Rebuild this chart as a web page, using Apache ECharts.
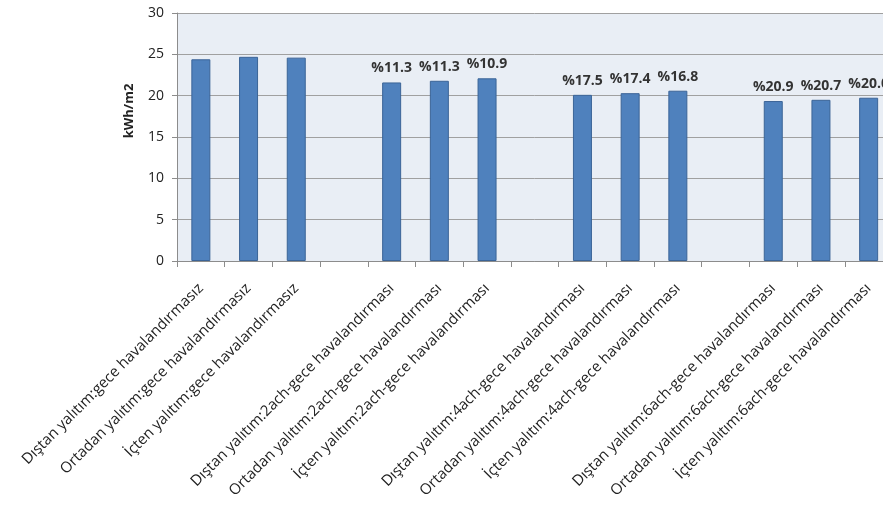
<!DOCTYPE html>
<html>
<head>
<meta charset="utf-8">
<script src="https://cdn.jsdelivr.net/npm/echarts@6/dist/echarts.min.js"></script>
<style>
html,body{margin:0;padding:0;background:#fff;overflow:hidden;width:883px;height:505px;}
#c{width:893px;height:505px;}
</style>
</head>
<body>
<div id="c"></div>
<script>
const categories = [
  'Dıştan yalıtım:gece havalandırmasız',
  'Ortadan yalıtım:gece havalandırmasız',
  'İçten yalıtım:gece havalandırmasız',
  '',
  'Dıştan yalıtım:2ach-gece havalandırması',
  'Ortadan yalıtım:2ach-gece havalandırması',
  'İçten yalıtım:2ach-gece havalandırması',
  '',
  'Dıştan yalıtım:4ach-gece havalandırması',
  'Ortadan yalıtım:4ach-gece havalandırması',
  'İçten yalıtım:4ach-gece havalandırması',
  '',
  'Dıştan yalıtım:6ach-gece havalandırması',
  'Ortadan yalıtım:6ach-gece havalandırması',
  'İçten yalıtım:6ach-gece havalandırması'
];
const values = [24.4, 24.7, 24.6, null, 21.6, 21.8, 22.1, null, 20.1, 20.3, 20.6, null, 19.35, 19.5, 19.75];
const barLabels = ['', '', '', '', '%11.3', '%11.3', '%10.9', '', '%17.5', '%17.4', '%16.8', '', '%20.9', '%20.7', '%20.0'];
const yTicks = {min: 0, max: 30, interval: 5};
const yName = 'kWh/m2';

const chart = echarts.init(document.getElementById('c'));
chart.setOption({
  animation: false,
  grid: {left: 177, top: 13, right: 0.5, bottom: 244, show: true, backgroundColor: '#e9eef5', borderWidth: 0},
  xAxis: {
    type: 'category',
    data: categories,
    axisLine: {lineStyle: {color: '#8c8c8c', width: 1}},
    axisTick: {show: true, length: 6, lineStyle: {color: '#8c8c8c'}},
    axisLabel: {
      interval: 0, rotate: 45, margin: 25,
      fontFamily: 'Open Sans', fontSize: 15, color: '#222'
    }
  },
  yAxis: {
    type: 'value',
    min: yTicks.min, max: yTicks.max, interval: yTicks.interval,
    axisLine: {show: true, lineStyle: {color: '#8c8c8c'}},
    axisTick: {show: true, length: 5, lineStyle: {color: '#8c8c8c'}},
    axisLabel: {fontFamily: 'Open Sans', fontSize: 14, color: '#222', margin: 13},
    splitLine: {lineStyle: {color: '#a0a0a0', width: 1}}
  },
  graphic: [{
    type: 'text',
    x: 129, y: 111,
    rotation: Math.PI / 2,
    style: {text: yName, fontFamily: 'Open Sans', fontSize: 13, fontWeight: 'bold', fill: '#222', align: 'center', verticalAlign: 'middle'}
  }],
  series: [{
    type: 'bar',
    data: values,
    barWidth: 19,
    itemStyle: {color: '#4f81bd', borderColor: '#3b6497', borderWidth: 1},
    label: {
      show: true, position: 'top', distance: 7,
      fontFamily: 'Open Sans', fontSize: 14, fontWeight: 'bold', color: '#333',
      formatter: p => barLabels[p.dataIndex]
    }
  }]
});
</script>
</body>
</html>
